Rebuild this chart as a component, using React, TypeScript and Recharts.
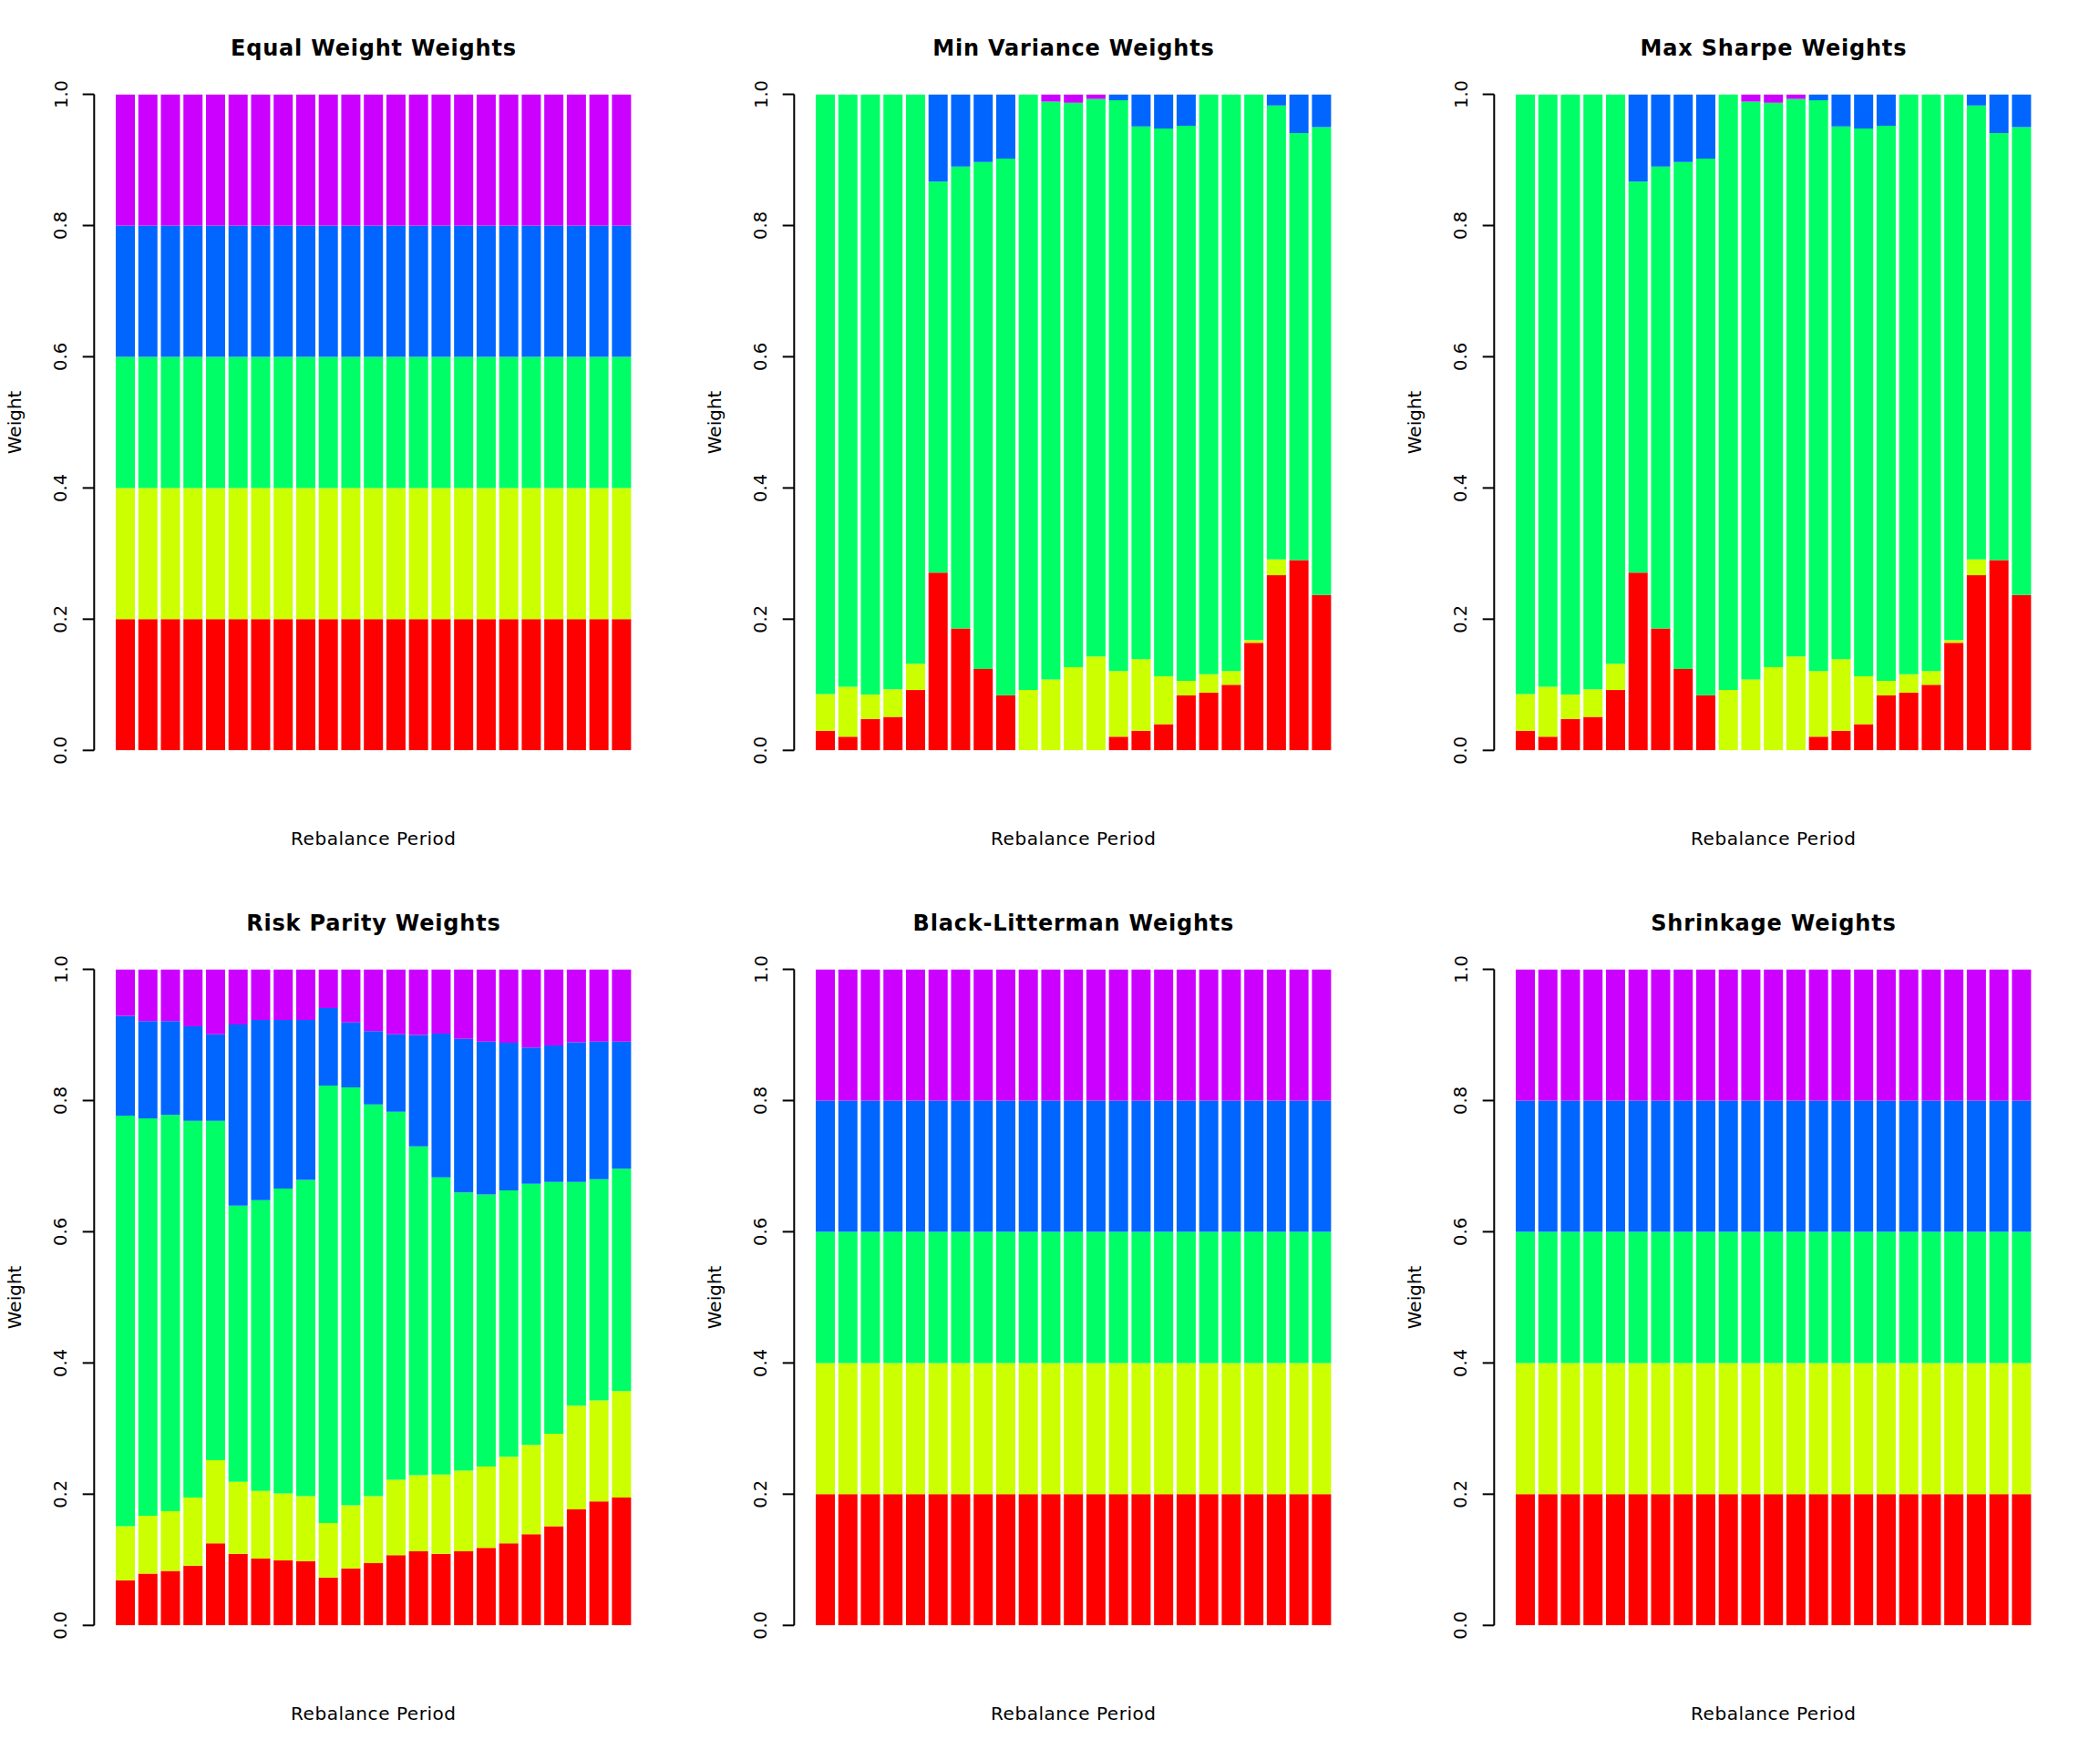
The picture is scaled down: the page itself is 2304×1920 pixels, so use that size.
import React from 'react';
import { BarChart, Bar, XAxis, YAxis } from 'recharts';

// ---------- categories & styling lists ----------
const periods = ['1', '2', '3', '4', '5', '6', '7', '8', '9', '10', '11', '12', '13', '14', '15', '16', '17', '18', '19', '20', '21', '22', '23'];
const assetKeys = ['a1', 'a2', 'a3', 'a4', 'a5'];
const assetColors = ['#FF0000', '#CCFF00', '#00FF66', '#0066FF', '#CC00FF'];
const yTicks = [0, 0.2, 0.4, 0.6, 0.8, 1.0];

// ---------- data ----------
const equalShare = [0.2, 0.2, 0.2, 0.2, 0.2, 0.2, 0.2, 0.2, 0.2, 0.2, 0.2, 0.2, 0.2, 0.2, 0.2, 0.2, 0.2, 0.2, 0.2, 0.2, 0.2, 0.2, 0.2];

const minVarA1 = [0.030, 0.021, 0.048, 0.051, 0.092, 0.271, 0.186, 0.124, 0.084, 0, 0, 0, 0, 0.021, 0.030, 0.040, 0.084, 0.088, 0.100, 0.164, 0.267, 0.290, 0.237];
const minVarA2 = [0.056, 0.076, 0.037, 0.042, 0.040, 0, 0, 0, 0, 0.092, 0.108, 0.127, 0.143, 0.100, 0.109, 0.073, 0.022, 0.028, 0.021, 0.004, 0.024, 0, 0];
const minVarA3 = [0.914, 0.903, 0.915, 0.907, 0.868, 0.596, 0.704, 0.773, 0.818, 0.908, 0.881, 0.860, 0.850, 0.870, 0.812, 0.835, 0.846, 0.884, 0.879, 0.832, 0.692, 0.651, 0.713];
const minVarA4 = [0, 0, 0, 0, 0, 0.133, 0.110, 0.103, 0.098, 0, 0, 0, 0, 0.009, 0.049, 0.052, 0.048, 0, 0, 0, 0.017, 0.059, 0.050];
const minVarA5 = [0, 0, 0, 0, 0, 0, 0, 0, 0, 0, 0.011, 0.013, 0.007, 0, 0, 0, 0, 0, 0, 0, 0, 0, 0];

const maxSharpeA1 = [0.030, 0.021, 0.048, 0.051, 0.092, 0.271, 0.186, 0.124, 0.084, 0, 0, 0, 0, 0.021, 0.030, 0.040, 0.084, 0.088, 0.100, 0.164, 0.267, 0.290, 0.237];
const maxSharpeA2 = [0.056, 0.076, 0.037, 0.042, 0.040, 0, 0, 0, 0, 0.092, 0.108, 0.127, 0.143, 0.100, 0.109, 0.073, 0.022, 0.028, 0.021, 0.004, 0.024, 0, 0];
const maxSharpeA3 = [0.914, 0.903, 0.915, 0.907, 0.868, 0.596, 0.704, 0.773, 0.818, 0.908, 0.881, 0.860, 0.850, 0.870, 0.812, 0.835, 0.846, 0.884, 0.879, 0.832, 0.692, 0.651, 0.713];
const maxSharpeA4 = [0, 0, 0, 0, 0, 0.133, 0.110, 0.103, 0.098, 0, 0, 0, 0, 0.009, 0.049, 0.052, 0.048, 0, 0, 0, 0.017, 0.059, 0.050];
const maxSharpeA5 = [0, 0, 0, 0, 0, 0, 0, 0, 0, 0, 0.011, 0.013, 0.007, 0, 0, 0, 0, 0, 0, 0, 0, 0, 0];

const riskParityA1 = [0.069, 0.079, 0.083, 0.091, 0.125, 0.109, 0.102, 0.099, 0.098, 0.073, 0.087, 0.095, 0.107, 0.113, 0.109, 0.113, 0.118, 0.125, 0.139, 0.151, 0.177, 0.189, 0.195];
const riskParityA2 = [0.082, 0.088, 0.091, 0.104, 0.127, 0.110, 0.103, 0.102, 0.099, 0.083, 0.096, 0.102, 0.115, 0.116, 0.121, 0.123, 0.124, 0.132, 0.136, 0.141, 0.158, 0.154, 0.162];
const riskParityA3 = [0.626, 0.606, 0.604, 0.574, 0.517, 0.421, 0.443, 0.465, 0.482, 0.667, 0.637, 0.597, 0.561, 0.501, 0.453, 0.424, 0.415, 0.406, 0.398, 0.384, 0.341, 0.337, 0.339];
const riskParityA4 = [0.152, 0.148, 0.143, 0.144, 0.132, 0.276, 0.275, 0.257, 0.244, 0.118, 0.099, 0.112, 0.118, 0.170, 0.219, 0.234, 0.233, 0.225, 0.208, 0.208, 0.213, 0.210, 0.194];
const riskParityA5 = [0.071, 0.079, 0.079, 0.087, 0.099, 0.084, 0.077, 0.077, 0.077, 0.059, 0.081, 0.094, 0.099, 0.100, 0.098, 0.106, 0.110, 0.112, 0.119, 0.116, 0.111, 0.110, 0.110];

const panelTitles = ['Equal Weight Weights', 'Min Variance Weights', 'Max Sharpe Weights', 'Risk Parity Weights', 'Black-Litterman Weights', 'Shrinkage Weights'];
const panelSeries: number[][][] = [
  [equalShare, equalShare, equalShare, equalShare, equalShare],
  [minVarA1, minVarA2, minVarA3, minVarA4, minVarA5],
  [maxSharpeA1, maxSharpeA2, maxSharpeA3, maxSharpeA4, maxSharpeA5],
  [riskParityA1, riskParityA2, riskParityA3, riskParityA4, riskParityA5],
  [equalShare, equalShare, equalShare, equalShare, equalShare],
  [equalShare, equalShare, equalShare, equalShare, equalShare],
];

// ---------- layout ----------
const W = 768;
const H = 960;
const PLOT_LEFT = 103.3;
const PLOT_RIGHT = 715.7;
const PLOT_TOP = 103.5;
const PLOT_BOTTOM = 823.3;
const BAND_PAD = 21.64;
const FONT = 'DejaVu Sans';

function buildRows(series: number[][]) {
  return periods.map((p, i) => {
    const row: Record<string, any> = { period: p };
    assetKeys.forEach((k, j) => {
      row[k] = series[j][i];
    });
    return row;
  });
}

function RTick(props: any) {
  const { y, payload } = props;
  const bx = PLOT_LEFT - 29.8;
  return (
    <text
      x={bx}
      y={y}
      transform={`rotate(-90, ${bx}, ${y})`}
      textAnchor="middle"
      fontFamily={FONT}
      fontSize={19.5}
      fill="#000"
    >
      {Number(payload.value).toFixed(1)}
    </text>
  );
}

function Panel({ title, series }: { title: string; series: number[][] }) {
  const rows = buildRows(series);
  const cx = (PLOT_LEFT + PLOT_RIGHT) / 2;
  const cy = (PLOT_TOP + PLOT_BOTTOM) / 2;
  return (
    <div style={{ position: 'relative', width: W, height: H }}>
      <BarChart
        width={W}
        height={H}
        data={rows}
        margin={{ top: PLOT_TOP, right: W - PLOT_RIGHT, bottom: H - PLOT_BOTTOM, left: 0 }}
        barCategoryGap={2.06}
      >
        <XAxis dataKey="period" hide padding={{ left: BAND_PAD, right: BAND_PAD }} />
        <YAxis
          type="number"
          width={PLOT_LEFT}
          domain={[0, 1]}
          allowDataOverflow
          ticks={yTicks}
          interval={0}
          tick={<RTick />}
          tickSize={12.6}
          tickMargin={0}
          axisLine={{ stroke: '#000', strokeWidth: 2 }}
          tickLine={{ stroke: '#000', strokeWidth: 2 }}
        />
        {assetKeys.map((k, i) => (
          <Bar key={k} dataKey={k} stackId="w" fill={assetColors[i]} isAnimationActive={false} />
        ))}
      </BarChart>
      <svg
        width={W}
        height={H}
        style={{ position: 'absolute', left: 0, top: 0, pointerEvents: 'none' }}
      >
        <text x={cx + 0.4} y={60.7} textAnchor="middle" fontFamily={FONT} fontWeight="bold" fontSize={24} letterSpacing={0.8} fill="#000">
          {title}
        </text>
        <text x={cx + 0.3} y={927.3} textAnchor="middle" fontFamily={FONT} fontSize={20} letterSpacing={0.55} fill="#000">
          Rebalance Period
        </text>
        <text
          x={23}
          y={cy}
          transform={`rotate(-90, 23, ${cy})`}
          textAnchor="middle"
          fontFamily={FONT}
          fontSize={20}
          fill="#000"
        >
          Weight
        </text>
      </svg>
    </div>
  );
}

export default function App() {
  return (
    <div
      style={{
        position: 'absolute',
        left: 0,
        top: 0,
        width: 2304,
        height: 1920,
        background: '#fff',
        display: 'grid',
        gridTemplateColumns: `repeat(3, ${W}px)`,
        gridTemplateRows: `repeat(2, ${H}px)`,
      }}
    >
      {panelTitles.map((t, i) => (
        <Panel key={t} title={t} series={panelSeries[i]} />
      ))}
    </div>
  );
}
